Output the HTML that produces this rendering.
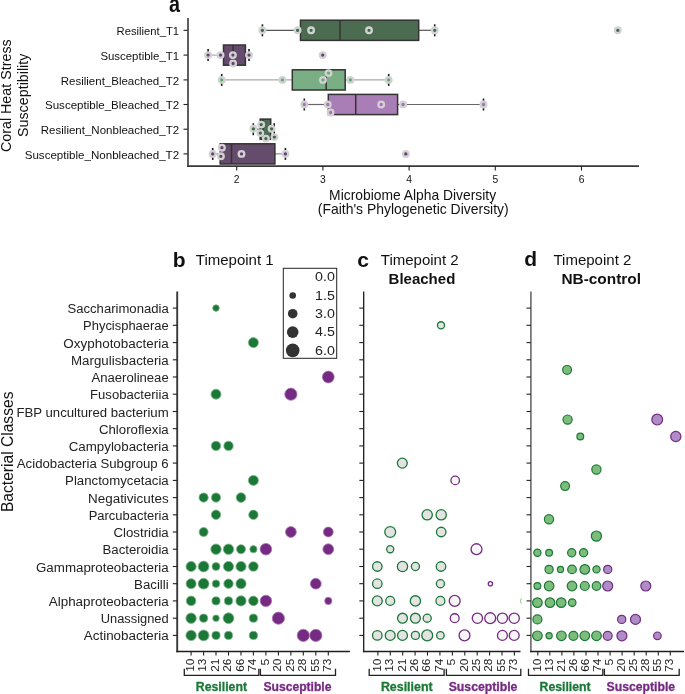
<!DOCTYPE html>
<html><head><meta charset="utf-8"><title>figure</title>
<style>
html,body{margin:0;padding:0;background:#fff;overflow:hidden;}
svg{display:block;will-change:transform;}
text{font-family:"Liberation Sans", sans-serif;}
</style></head><body>
<svg width="685" height="694" viewBox="0 0 685 694">
<rect width="685" height="694" fill="#fff"/>
<text transform="translate(168.9,11.5) scale(0.86,1)" font-size="23" font-weight="bold" fill="#111">a</text>
<text transform="translate(11,95.7) rotate(-90)" text-anchor="middle" font-size="14.3" fill="#111">Coral Heat Stress</text>
<text transform="translate(27.5,95.3) rotate(-90)" text-anchor="middle" font-size="14.3" fill="#111">Susceptibility</text>
<text x="116.5" y="35.2" font-size="11" fill="#111" textLength="62.6" lengthAdjust="spacingAndGlyphs">Resilient_T1</text>
<line x1="183.5" y1="30.3" x2="188" y2="30.3" stroke="#222" stroke-width="1.1"/>
<text x="100.4" y="60.0" font-size="11" fill="#111" textLength="78.7" lengthAdjust="spacingAndGlyphs">Susceptible_T1</text>
<line x1="183.5" y1="55.1" x2="188" y2="55.1" stroke="#222" stroke-width="1.1"/>
<text x="60.7" y="84.8" font-size="11" fill="#111" textLength="118.4" lengthAdjust="spacingAndGlyphs">Resilient_Bleached_T2</text>
<line x1="183.5" y1="79.9" x2="188" y2="79.9" stroke="#222" stroke-width="1.1"/>
<text x="45.0" y="109.4" font-size="11" fill="#111" textLength="134.1" lengthAdjust="spacingAndGlyphs">Susceptible_Bleached_T2</text>
<line x1="183.5" y1="104.5" x2="188" y2="104.5" stroke="#222" stroke-width="1.1"/>
<text x="40.8" y="134.1" font-size="11" fill="#111" textLength="138.3" lengthAdjust="spacingAndGlyphs">Resilient_Nonbleached_T2</text>
<line x1="183.5" y1="129.2" x2="188" y2="129.2" stroke="#222" stroke-width="1.1"/>
<text x="24.7" y="158.8" font-size="11" fill="#111" textLength="154.4" lengthAdjust="spacingAndGlyphs">Susceptible_Nonbleached_T2</text>
<line x1="183.5" y1="153.9" x2="188" y2="153.9" stroke="#222" stroke-width="1.1"/>
<line x1="262.4" y1="30.3" x2="300.5" y2="30.3" stroke="#555" stroke-width="1.2"/>
<line x1="418.7" y1="30.3" x2="434.7" y2="30.3" stroke="#555" stroke-width="1.2"/>
<line x1="262.4" y1="24.3" x2="262.4" y2="36.3" stroke="#1a1a1a" stroke-width="1.6"/>
<line x1="434.7" y1="24.3" x2="434.7" y2="36.3" stroke="#1a1a1a" stroke-width="1.6"/>
<rect x="300.5" y="20.2" width="118.2" height="20.2" fill="#4c6c52" stroke="#333333" stroke-width="1.5"/>
<line x1="340.0" y1="20.2" x2="340.0" y2="40.4" stroke="#333333" stroke-width="1.5"/>
<line x1="208.1" y1="55.1" x2="223.5" y2="55.1" stroke="#aaa" stroke-width="1.2"/>
<line x1="245.4" y1="55.1" x2="249.0" y2="55.1" stroke="#aaa" stroke-width="1.2"/>
<line x1="208.1" y1="49.1" x2="208.1" y2="61.1" stroke="#1a1a1a" stroke-width="1.6"/>
<line x1="249.0" y1="49.1" x2="249.0" y2="61.1" stroke="#1a1a1a" stroke-width="1.6"/>
<rect x="223.5" y="45.0" width="21.9" height="20.2" fill="#664c6c" stroke="#333333" stroke-width="1.5"/>
<line x1="233.1" y1="45.0" x2="233.1" y2="65.2" stroke="#333333" stroke-width="1.5"/>
<line x1="221.7" y1="79.9" x2="292.3" y2="79.9" stroke="#aaa" stroke-width="1.2"/>
<line x1="345.2" y1="79.9" x2="388.7" y2="79.9" stroke="#aaa" stroke-width="1.2"/>
<line x1="221.7" y1="73.9" x2="221.7" y2="85.9" stroke="#1a1a1a" stroke-width="1.6"/>
<line x1="388.7" y1="73.9" x2="388.7" y2="85.9" stroke="#1a1a1a" stroke-width="1.6"/>
<rect x="292.3" y="69.8" width="52.9" height="20.2" fill="#7aae84" stroke="#333333" stroke-width="1.5"/>
<line x1="326.2" y1="69.8" x2="326.2" y2="90.0" stroke="#333333" stroke-width="1.5"/>
<line x1="304.3" y1="104.5" x2="328.3" y2="104.5" stroke="#666" stroke-width="1.2"/>
<line x1="397.6" y1="104.5" x2="483.5" y2="104.5" stroke="#666" stroke-width="1.2"/>
<line x1="304.3" y1="98.5" x2="304.3" y2="110.5" stroke="#1a1a1a" stroke-width="1.6"/>
<line x1="483.5" y1="98.5" x2="483.5" y2="110.5" stroke="#1a1a1a" stroke-width="1.6"/>
<rect x="328.3" y="94.4" width="69.3" height="20.2" fill="#a97db5" stroke="#333333" stroke-width="1.5"/>
<line x1="355.7" y1="94.4" x2="355.7" y2="114.6" stroke="#333333" stroke-width="1.5"/>
<line x1="253.3" y1="129.2" x2="260.2" y2="129.2" stroke="#777" stroke-width="1.2"/>
<line x1="270.7" y1="129.2" x2="274.2" y2="129.2" stroke="#777" stroke-width="1.2"/>
<line x1="253.3" y1="123.2" x2="253.3" y2="135.2" stroke="#1a1a1a" stroke-width="1.6"/>
<line x1="274.2" y1="123.2" x2="274.2" y2="135.2" stroke="#1a1a1a" stroke-width="1.6"/>
<rect x="260.2" y="119.1" width="10.5" height="20.2" fill="#4c6c52" stroke="#333333" stroke-width="1.5"/>
<line x1="263.0" y1="119.1" x2="263.0" y2="139.3" stroke="#333333" stroke-width="1.5"/>
<line x1="212.7" y1="153.9" x2="220.2" y2="153.9" stroke="#888" stroke-width="1.2"/>
<line x1="274.9" y1="153.9" x2="285.4" y2="153.9" stroke="#888" stroke-width="1.2"/>
<line x1="212.7" y1="147.9" x2="212.7" y2="159.9" stroke="#1a1a1a" stroke-width="1.6"/>
<line x1="285.4" y1="147.9" x2="285.4" y2="159.9" stroke="#1a1a1a" stroke-width="1.6"/>
<rect x="220.2" y="143.8" width="54.7" height="20.2" fill="#664c6c" stroke="#333333" stroke-width="1.5"/>
<line x1="231.5" y1="143.8" x2="231.5" y2="164.0" stroke="#333333" stroke-width="1.5"/>
<circle cx="262.4" cy="30.3" r="2.8" fill="#3c6b46" stroke="#d2d2d2" stroke-width="2.3"/>
<circle cx="297.6" cy="30.3" r="2.8" fill="#3c6b46" stroke="#d2d2d2" stroke-width="2.3"/>
<circle cx="311.1" cy="30.3" r="2.8" fill="#3c6b46" stroke="#d2d2d2" stroke-width="2.3"/>
<circle cx="369.0" cy="30.3" r="2.8" fill="#3c6b46" stroke="#d2d2d2" stroke-width="2.3"/>
<circle cx="434.7" cy="30.3" r="2.8" fill="#3c6b46" stroke="#d2d2d2" stroke-width="2.3"/>
<circle cx="617.8" cy="30.3" r="2.8" fill="#3c6b46" stroke="#d2d2d2" stroke-width="2.3"/>
<circle cx="208.1" cy="55.1" r="2.8" fill="#6a3f78" stroke="#d2d2d2" stroke-width="2.3"/>
<circle cx="220.6" cy="55.1" r="2.8" fill="#6a3f78" stroke="#d2d2d2" stroke-width="2.3"/>
<circle cx="232.9" cy="55.1" r="2.8" fill="#6a3f78" stroke="#d2d2d2" stroke-width="2.3"/>
<circle cx="233.1" cy="63.5" r="2.8" fill="#6a3f78" stroke="#d2d2d2" stroke-width="2.3"/>
<circle cx="249.0" cy="55.1" r="2.8" fill="#6a3f78" stroke="#d2d2d2" stroke-width="2.3"/>
<circle cx="322.7" cy="55.1" r="2.8" fill="#6a3f78" stroke="#d2d2d2" stroke-width="2.3"/>
<circle cx="221.7" cy="79.9" r="2.8" fill="#62b06f" stroke="#d2d2d2" stroke-width="2.3"/>
<circle cx="282.4" cy="79.9" r="2.8" fill="#62b06f" stroke="#d2d2d2" stroke-width="2.3"/>
<circle cx="323.0" cy="79.9" r="2.8" fill="#62b06f" stroke="#d2d2d2" stroke-width="2.3"/>
<circle cx="328.5" cy="73.1" r="2.8" fill="#62b06f" stroke="#d2d2d2" stroke-width="2.3"/>
<circle cx="350.4" cy="79.9" r="2.8" fill="#62b06f" stroke="#d2d2d2" stroke-width="2.3"/>
<circle cx="388.7" cy="79.9" r="2.8" fill="#62b06f" stroke="#d2d2d2" stroke-width="2.3"/>
<circle cx="304.3" cy="104.5" r="2.8" fill="#b06ac3" stroke="#d2d2d2" stroke-width="2.3"/>
<circle cx="327.8" cy="104.5" r="2.8" fill="#b06ac3" stroke="#d2d2d2" stroke-width="2.3"/>
<circle cx="330.6" cy="112.5" r="2.8" fill="#b06ac3" stroke="#d2d2d2" stroke-width="2.3"/>
<circle cx="381.2" cy="104.5" r="2.8" fill="#b06ac3" stroke="#d2d2d2" stroke-width="2.3"/>
<circle cx="403.1" cy="104.5" r="2.8" fill="#b06ac3" stroke="#d2d2d2" stroke-width="2.3"/>
<circle cx="483.5" cy="104.5" r="2.8" fill="#b06ac3" stroke="#d2d2d2" stroke-width="2.3"/>
<circle cx="253.4" cy="128.8" r="2.8" fill="#3c6b46" stroke="#d2d2d2" stroke-width="2.3"/>
<circle cx="261.2" cy="124.6" r="2.8" fill="#3c6b46" stroke="#d2d2d2" stroke-width="2.3"/>
<circle cx="260.3" cy="133.1" r="2.8" fill="#3c6b46" stroke="#d2d2d2" stroke-width="2.3"/>
<circle cx="265.9" cy="138.6" r="2.8" fill="#3c6b46" stroke="#d2d2d2" stroke-width="2.3"/>
<circle cx="271.6" cy="128.8" r="2.8" fill="#3c6b46" stroke="#d2d2d2" stroke-width="2.3"/>
<circle cx="274.4" cy="137.1" r="2.8" fill="#3c6b46" stroke="#d2d2d2" stroke-width="2.3"/>
<circle cx="212.7" cy="153.9" r="2.8" fill="#6a3f78" stroke="#d2d2d2" stroke-width="2.3"/>
<circle cx="221.9" cy="147.7" r="2.8" fill="#6a3f78" stroke="#d2d2d2" stroke-width="2.3"/>
<circle cx="220.9" cy="156.3" r="2.8" fill="#6a3f78" stroke="#d2d2d2" stroke-width="2.3"/>
<circle cx="241.5" cy="153.9" r="2.8" fill="#6a3f78" stroke="#d2d2d2" stroke-width="2.3"/>
<circle cx="285.4" cy="153.9" r="2.8" fill="#6a3f78" stroke="#d2d2d2" stroke-width="2.3"/>
<circle cx="405.8" cy="153.9" r="2.8" fill="#6a3f78" stroke="#d2d2d2" stroke-width="2.3"/>
<line x1="188" y1="18" x2="188" y2="166.9" stroke="#383838" stroke-width="1.6"/>
<line x1="187.2" y1="166.1" x2="639" y2="166.1" stroke="#383838" stroke-width="1.6"/>
<line x1="236.7" y1="166" x2="236.7" y2="170.6" stroke="#222" stroke-width="1.1"/>
<text x="236.7" y="182.6" font-size="10.3" fill="#111" text-anchor="middle">2</text>
<line x1="322.9" y1="166" x2="322.9" y2="170.6" stroke="#222" stroke-width="1.1"/>
<text x="322.9" y="182.6" font-size="10.3" fill="#111" text-anchor="middle">3</text>
<line x1="409.1" y1="166" x2="409.1" y2="170.6" stroke="#222" stroke-width="1.1"/>
<text x="409.1" y="182.6" font-size="10.3" fill="#111" text-anchor="middle">4</text>
<line x1="495.3" y1="166" x2="495.3" y2="170.6" stroke="#222" stroke-width="1.1"/>
<text x="495.3" y="182.6" font-size="10.3" fill="#111" text-anchor="middle">5</text>
<line x1="581.5" y1="166" x2="581.5" y2="170.6" stroke="#222" stroke-width="1.1"/>
<text x="581.5" y="182.6" font-size="10.3" fill="#111" text-anchor="middle">6</text>
<text x="329.1" y="200.0" font-size="14.4" fill="#111" textLength="167" lengthAdjust="spacingAndGlyphs">Microbiome Alpha Diversity</text>
<text x="317.8" y="214.3" font-size="14.4" fill="#111" textLength="190.9" lengthAdjust="spacingAndGlyphs">(Faith's Phylogenetic Diversity)</text>
<text x="67.5" y="313.1" font-size="12" fill="#222" textLength="101.2" lengthAdjust="spacingAndGlyphs">Saccharimonadia</text>
<text x="83.1" y="330.3" font-size="12" fill="#222" textLength="85.6" lengthAdjust="spacingAndGlyphs">Phycisphaerae</text>
<text x="63.3" y="347.6" font-size="12" fill="#222" textLength="105.4" lengthAdjust="spacingAndGlyphs">Oxyphotobacteria</text>
<text x="71.0" y="364.8" font-size="12" fill="#222" textLength="97.7" lengthAdjust="spacingAndGlyphs">Margulisbacteria</text>
<text x="91.5" y="382.0" font-size="12" fill="#222" textLength="77.2" lengthAdjust="spacingAndGlyphs">Anaerolineae</text>
<text x="90.1" y="399.2" font-size="12" fill="#222" textLength="78.6" lengthAdjust="spacingAndGlyphs">Fusobacteriia</text>
<text x="16.4" y="416.5" font-size="12" fill="#222" textLength="152.3" lengthAdjust="spacingAndGlyphs">FBP uncultured bacterium</text>
<text x="99.0" y="433.7" font-size="12" fill="#222" textLength="69.7" lengthAdjust="spacingAndGlyphs">Chloroflexia</text>
<text x="68.7" y="450.9" font-size="12" fill="#222" textLength="100.0" lengthAdjust="spacingAndGlyphs">Campylobacteria</text>
<text x="16.8" y="468.1" font-size="12" fill="#222" textLength="151.9" lengthAdjust="spacingAndGlyphs">Acidobacteria Subgroup 6</text>
<text x="65.1" y="485.4" font-size="12" fill="#222" textLength="103.6" lengthAdjust="spacingAndGlyphs">Planctomycetacia</text>
<text x="88.0" y="502.6" font-size="12" fill="#222" textLength="80.7" lengthAdjust="spacingAndGlyphs">Negativicutes</text>
<text x="88.7" y="519.8" font-size="12" fill="#222" textLength="80.0" lengthAdjust="spacingAndGlyphs">Parcubacteria</text>
<text x="113.5" y="537.0" font-size="12" fill="#222" textLength="55.2" lengthAdjust="spacingAndGlyphs">Clostridia</text>
<text x="102.5" y="554.2" font-size="12" fill="#222" textLength="66.2" lengthAdjust="spacingAndGlyphs">Bacteroidia</text>
<text x="36.0" y="571.5" font-size="12" fill="#222" textLength="132.7" lengthAdjust="spacingAndGlyphs">Gammaproteobacteria</text>
<text x="134.1" y="588.7" font-size="12" fill="#222" textLength="34.6" lengthAdjust="spacingAndGlyphs">Bacilli</text>
<text x="48.8" y="605.9" font-size="12" fill="#222" textLength="119.9" lengthAdjust="spacingAndGlyphs">Alphaproteobacteria</text>
<text x="100.7" y="623.2" font-size="12" fill="#222" textLength="68.0" lengthAdjust="spacingAndGlyphs">Unassigned</text>
<text x="83.8" y="640.4" font-size="12" fill="#222" textLength="84.9" lengthAdjust="spacingAndGlyphs">Actinobacteria</text>
<text transform="translate(12.6,451.8) rotate(-90)" text-anchor="middle" font-size="15.6" fill="#111">Bacterial Classes</text>
<text x="172.8" y="267.1" font-size="21" font-weight="bold" fill="#111">b</text>
<text x="195.8" y="265.1" font-size="15" fill="#111">Timepoint 1</text>
<text x="357.2" y="266.9" font-size="21" font-weight="bold" fill="#111">c</text>
<text x="380.8" y="264.9" font-size="15" fill="#111">Timepoint 2</text>
<text x="388.6" y="284" font-size="15" font-weight="bold" fill="#111">Bleached</text>
<text x="524.3" y="266.3" font-size="21" font-weight="bold" fill="#111">d</text>
<text x="553.5" y="265.2" font-size="15" fill="#111">Timepoint 2</text>
<text x="561.4" y="284.3" font-size="15" font-weight="bold" fill="#111" textLength="79.6" lengthAdjust="spacingAndGlyphs">NB-control</text>
<line x1="177.2" y1="291.6" x2="177.2" y2="652.3" stroke="#383838" stroke-width="1.9"/>
<line x1="176.4" y1="651.5" x2="349.9" y2="651.5" stroke="#1e1e1e" stroke-width="1.5"/>
<line x1="172.8" y1="308.1" x2="177.2" y2="308.1" stroke="#222" stroke-width="1.1"/>
<line x1="172.8" y1="325.3" x2="177.2" y2="325.3" stroke="#222" stroke-width="1.1"/>
<line x1="172.8" y1="342.6" x2="177.2" y2="342.6" stroke="#222" stroke-width="1.1"/>
<line x1="172.8" y1="359.8" x2="177.2" y2="359.8" stroke="#222" stroke-width="1.1"/>
<line x1="172.8" y1="377.0" x2="177.2" y2="377.0" stroke="#222" stroke-width="1.1"/>
<line x1="172.8" y1="394.2" x2="177.2" y2="394.2" stroke="#222" stroke-width="1.1"/>
<line x1="172.8" y1="411.5" x2="177.2" y2="411.5" stroke="#222" stroke-width="1.1"/>
<line x1="172.8" y1="428.7" x2="177.2" y2="428.7" stroke="#222" stroke-width="1.1"/>
<line x1="172.8" y1="445.9" x2="177.2" y2="445.9" stroke="#222" stroke-width="1.1"/>
<line x1="172.8" y1="463.1" x2="177.2" y2="463.1" stroke="#222" stroke-width="1.1"/>
<line x1="172.8" y1="480.4" x2="177.2" y2="480.4" stroke="#222" stroke-width="1.1"/>
<line x1="172.8" y1="497.6" x2="177.2" y2="497.6" stroke="#222" stroke-width="1.1"/>
<line x1="172.8" y1="514.8" x2="177.2" y2="514.8" stroke="#222" stroke-width="1.1"/>
<line x1="172.8" y1="532.0" x2="177.2" y2="532.0" stroke="#222" stroke-width="1.1"/>
<line x1="172.8" y1="549.2" x2="177.2" y2="549.2" stroke="#222" stroke-width="1.1"/>
<line x1="172.8" y1="566.5" x2="177.2" y2="566.5" stroke="#222" stroke-width="1.1"/>
<line x1="172.8" y1="583.7" x2="177.2" y2="583.7" stroke="#222" stroke-width="1.1"/>
<line x1="172.8" y1="600.9" x2="177.2" y2="600.9" stroke="#222" stroke-width="1.1"/>
<line x1="172.8" y1="618.2" x2="177.2" y2="618.2" stroke="#222" stroke-width="1.1"/>
<line x1="172.8" y1="635.4" x2="177.2" y2="635.4" stroke="#222" stroke-width="1.1"/>
<line x1="191.1" y1="651.5" x2="191.1" y2="655.6" stroke="#222" stroke-width="1.1"/>
<text transform="translate(193.9,658.6) rotate(-90)" text-anchor="end" font-size="11.5" fill="#222" textLength="13.2" lengthAdjust="spacingAndGlyphs">10</text>
<line x1="203.6" y1="651.5" x2="203.6" y2="655.6" stroke="#222" stroke-width="1.1"/>
<text transform="translate(206.4,658.6) rotate(-90)" text-anchor="end" font-size="11.5" fill="#222" textLength="13.2" lengthAdjust="spacingAndGlyphs">13</text>
<line x1="216.0" y1="651.5" x2="216.0" y2="655.6" stroke="#222" stroke-width="1.1"/>
<text transform="translate(218.8,658.6) rotate(-90)" text-anchor="end" font-size="11.5" fill="#222" textLength="13.2" lengthAdjust="spacingAndGlyphs">21</text>
<line x1="228.5" y1="651.5" x2="228.5" y2="655.6" stroke="#222" stroke-width="1.1"/>
<text transform="translate(231.3,658.6) rotate(-90)" text-anchor="end" font-size="11.5" fill="#222" textLength="13.2" lengthAdjust="spacingAndGlyphs">26</text>
<line x1="241.0" y1="651.5" x2="241.0" y2="655.6" stroke="#222" stroke-width="1.1"/>
<text transform="translate(243.8,658.6) rotate(-90)" text-anchor="end" font-size="11.5" fill="#222" textLength="13.2" lengthAdjust="spacingAndGlyphs">66</text>
<line x1="253.4" y1="651.5" x2="253.4" y2="655.6" stroke="#222" stroke-width="1.1"/>
<text transform="translate(256.2,658.6) rotate(-90)" text-anchor="end" font-size="11.5" fill="#222" textLength="13.2" lengthAdjust="spacingAndGlyphs">74</text>
<line x1="265.9" y1="651.5" x2="265.9" y2="655.6" stroke="#222" stroke-width="1.1"/>
<text transform="translate(268.7,658.6) rotate(-90)" text-anchor="end" font-size="11.5" fill="#222" textLength="6.9" lengthAdjust="spacingAndGlyphs">5</text>
<line x1="278.4" y1="651.5" x2="278.4" y2="655.6" stroke="#222" stroke-width="1.1"/>
<text transform="translate(281.2,658.6) rotate(-90)" text-anchor="end" font-size="11.5" fill="#222" textLength="13.2" lengthAdjust="spacingAndGlyphs">20</text>
<line x1="290.9" y1="651.5" x2="290.9" y2="655.6" stroke="#222" stroke-width="1.1"/>
<text transform="translate(293.7,658.6) rotate(-90)" text-anchor="end" font-size="11.5" fill="#222" textLength="13.2" lengthAdjust="spacingAndGlyphs">25</text>
<line x1="303.3" y1="651.5" x2="303.3" y2="655.6" stroke="#222" stroke-width="1.1"/>
<text transform="translate(306.1,658.6) rotate(-90)" text-anchor="end" font-size="11.5" fill="#222" textLength="13.2" lengthAdjust="spacingAndGlyphs">28</text>
<line x1="315.8" y1="651.5" x2="315.8" y2="655.6" stroke="#222" stroke-width="1.1"/>
<text transform="translate(318.6,658.6) rotate(-90)" text-anchor="end" font-size="11.5" fill="#222" textLength="13.2" lengthAdjust="spacingAndGlyphs">55</text>
<line x1="328.3" y1="651.5" x2="328.3" y2="655.6" stroke="#222" stroke-width="1.1"/>
<text transform="translate(331.1,658.6) rotate(-90)" text-anchor="end" font-size="11.5" fill="#222" textLength="13.2" lengthAdjust="spacingAndGlyphs">73</text>
<path d="M184.3,668.8 V675.3 H258.8 V668.8" fill="none" stroke="#222" stroke-width="1.3"/>
<path d="M260.4,668.8 V675.3 H335.5 V668.8" fill="none" stroke="#222" stroke-width="1.3"/>
<text x="195.8" y="690.6" font-size="12" font-weight="bold" fill="#1b7837" stroke="#1b7837" stroke-width="0.3" textLength="51.2" lengthAdjust="spacingAndGlyphs">Resilient</text>
<text x="263.4" y="690.6" font-size="12" font-weight="bold" fill="#762a83" stroke="#762a83" stroke-width="0.3" textLength="68.1" lengthAdjust="spacingAndGlyphs">Susceptible</text>
<line x1="363.7" y1="291.6" x2="363.7" y2="652.3" stroke="#1a1a1a" stroke-width="1.3"/>
<line x1="362.9" y1="651.5" x2="520.5" y2="651.5" stroke="#1e1e1e" stroke-width="1.5"/>
<line x1="359.3" y1="308.1" x2="363.7" y2="308.1" stroke="#222" stroke-width="1.1"/>
<line x1="359.3" y1="325.3" x2="363.7" y2="325.3" stroke="#222" stroke-width="1.1"/>
<line x1="359.3" y1="342.6" x2="363.7" y2="342.6" stroke="#222" stroke-width="1.1"/>
<line x1="359.3" y1="359.8" x2="363.7" y2="359.8" stroke="#222" stroke-width="1.1"/>
<line x1="359.3" y1="377.0" x2="363.7" y2="377.0" stroke="#222" stroke-width="1.1"/>
<line x1="359.3" y1="394.2" x2="363.7" y2="394.2" stroke="#222" stroke-width="1.1"/>
<line x1="359.3" y1="411.5" x2="363.7" y2="411.5" stroke="#222" stroke-width="1.1"/>
<line x1="359.3" y1="428.7" x2="363.7" y2="428.7" stroke="#222" stroke-width="1.1"/>
<line x1="359.3" y1="445.9" x2="363.7" y2="445.9" stroke="#222" stroke-width="1.1"/>
<line x1="359.3" y1="463.1" x2="363.7" y2="463.1" stroke="#222" stroke-width="1.1"/>
<line x1="359.3" y1="480.4" x2="363.7" y2="480.4" stroke="#222" stroke-width="1.1"/>
<line x1="359.3" y1="497.6" x2="363.7" y2="497.6" stroke="#222" stroke-width="1.1"/>
<line x1="359.3" y1="514.8" x2="363.7" y2="514.8" stroke="#222" stroke-width="1.1"/>
<line x1="359.3" y1="532.0" x2="363.7" y2="532.0" stroke="#222" stroke-width="1.1"/>
<line x1="359.3" y1="549.2" x2="363.7" y2="549.2" stroke="#222" stroke-width="1.1"/>
<line x1="359.3" y1="566.5" x2="363.7" y2="566.5" stroke="#222" stroke-width="1.1"/>
<line x1="359.3" y1="583.7" x2="363.7" y2="583.7" stroke="#222" stroke-width="1.1"/>
<line x1="359.3" y1="600.9" x2="363.7" y2="600.9" stroke="#222" stroke-width="1.1"/>
<line x1="359.3" y1="618.2" x2="363.7" y2="618.2" stroke="#222" stroke-width="1.1"/>
<line x1="359.3" y1="635.4" x2="363.7" y2="635.4" stroke="#222" stroke-width="1.1"/>
<line x1="377.9" y1="651.5" x2="377.9" y2="655.6" stroke="#222" stroke-width="1.1"/>
<text transform="translate(380.7,658.6) rotate(-90)" text-anchor="end" font-size="11.5" fill="#222" textLength="13.2" lengthAdjust="spacingAndGlyphs">10</text>
<line x1="390.3" y1="651.5" x2="390.3" y2="655.6" stroke="#222" stroke-width="1.1"/>
<text transform="translate(393.1,658.6) rotate(-90)" text-anchor="end" font-size="11.5" fill="#222" textLength="13.2" lengthAdjust="spacingAndGlyphs">13</text>
<line x1="402.7" y1="651.5" x2="402.7" y2="655.6" stroke="#222" stroke-width="1.1"/>
<text transform="translate(405.5,658.6) rotate(-90)" text-anchor="end" font-size="11.5" fill="#222" textLength="13.2" lengthAdjust="spacingAndGlyphs">21</text>
<line x1="415.1" y1="651.5" x2="415.1" y2="655.6" stroke="#222" stroke-width="1.1"/>
<text transform="translate(417.9,658.6) rotate(-90)" text-anchor="end" font-size="11.5" fill="#222" textLength="13.2" lengthAdjust="spacingAndGlyphs">26</text>
<line x1="427.5" y1="651.5" x2="427.5" y2="655.6" stroke="#222" stroke-width="1.1"/>
<text transform="translate(430.3,658.6) rotate(-90)" text-anchor="end" font-size="11.5" fill="#222" textLength="13.2" lengthAdjust="spacingAndGlyphs">66</text>
<line x1="439.9" y1="651.5" x2="439.9" y2="655.6" stroke="#222" stroke-width="1.1"/>
<text transform="translate(442.8,658.6) rotate(-90)" text-anchor="end" font-size="11.5" fill="#222" textLength="13.2" lengthAdjust="spacingAndGlyphs">74</text>
<line x1="452.4" y1="651.5" x2="452.4" y2="655.6" stroke="#222" stroke-width="1.1"/>
<text transform="translate(455.2,658.6) rotate(-90)" text-anchor="end" font-size="11.5" fill="#222" textLength="6.9" lengthAdjust="spacingAndGlyphs">5</text>
<line x1="464.8" y1="651.5" x2="464.8" y2="655.6" stroke="#222" stroke-width="1.1"/>
<text transform="translate(467.6,658.6) rotate(-90)" text-anchor="end" font-size="11.5" fill="#222" textLength="13.2" lengthAdjust="spacingAndGlyphs">20</text>
<line x1="477.2" y1="651.5" x2="477.2" y2="655.6" stroke="#222" stroke-width="1.1"/>
<text transform="translate(480.0,658.6) rotate(-90)" text-anchor="end" font-size="11.5" fill="#222" textLength="13.2" lengthAdjust="spacingAndGlyphs">25</text>
<line x1="489.6" y1="651.5" x2="489.6" y2="655.6" stroke="#222" stroke-width="1.1"/>
<text transform="translate(492.4,658.6) rotate(-90)" text-anchor="end" font-size="11.5" fill="#222" textLength="13.2" lengthAdjust="spacingAndGlyphs">28</text>
<line x1="502.0" y1="651.5" x2="502.0" y2="655.6" stroke="#222" stroke-width="1.1"/>
<text transform="translate(504.8,658.6) rotate(-90)" text-anchor="end" font-size="11.5" fill="#222" textLength="13.2" lengthAdjust="spacingAndGlyphs">55</text>
<line x1="514.4" y1="651.5" x2="514.4" y2="655.6" stroke="#222" stroke-width="1.1"/>
<text transform="translate(517.2,658.6) rotate(-90)" text-anchor="end" font-size="11.5" fill="#222" textLength="13.2" lengthAdjust="spacingAndGlyphs">73</text>
<path d="M369.2,668.8 V675.3 H444.1 V668.8" fill="none" stroke="#222" stroke-width="1.3"/>
<path d="M446.4,668.8 V675.3 H520.8 V668.8" fill="none" stroke="#222" stroke-width="1.3"/>
<text x="380.9" y="690.6" font-size="12" font-weight="bold" fill="#1b7837" stroke="#1b7837" stroke-width="0.3" textLength="51.7" lengthAdjust="spacingAndGlyphs">Resilient</text>
<text x="448.7" y="690.6" font-size="12" font-weight="bold" fill="#762a83" stroke="#762a83" stroke-width="0.3" textLength="68.7" lengthAdjust="spacingAndGlyphs">Susceptible</text>
<line x1="530.9" y1="291.6" x2="530.9" y2="652.3" stroke="#6a6a6a" stroke-width="1.6"/>
<line x1="530.1" y1="651.5" x2="684.0" y2="651.5" stroke="#1e1e1e" stroke-width="1.5"/>
<line x1="526.5" y1="308.1" x2="530.9" y2="308.1" stroke="#222" stroke-width="1.1"/>
<line x1="526.5" y1="325.3" x2="530.9" y2="325.3" stroke="#222" stroke-width="1.1"/>
<line x1="526.5" y1="342.6" x2="530.9" y2="342.6" stroke="#222" stroke-width="1.1"/>
<line x1="526.5" y1="359.8" x2="530.9" y2="359.8" stroke="#222" stroke-width="1.1"/>
<line x1="526.5" y1="377.0" x2="530.9" y2="377.0" stroke="#222" stroke-width="1.1"/>
<line x1="526.5" y1="394.2" x2="530.9" y2="394.2" stroke="#222" stroke-width="1.1"/>
<line x1="526.5" y1="411.5" x2="530.9" y2="411.5" stroke="#222" stroke-width="1.1"/>
<line x1="526.5" y1="428.7" x2="530.9" y2="428.7" stroke="#222" stroke-width="1.1"/>
<line x1="526.5" y1="445.9" x2="530.9" y2="445.9" stroke="#222" stroke-width="1.1"/>
<line x1="526.5" y1="463.1" x2="530.9" y2="463.1" stroke="#222" stroke-width="1.1"/>
<line x1="526.5" y1="480.4" x2="530.9" y2="480.4" stroke="#222" stroke-width="1.1"/>
<line x1="526.5" y1="497.6" x2="530.9" y2="497.6" stroke="#222" stroke-width="1.1"/>
<line x1="526.5" y1="514.8" x2="530.9" y2="514.8" stroke="#222" stroke-width="1.1"/>
<line x1="526.5" y1="532.0" x2="530.9" y2="532.0" stroke="#222" stroke-width="1.1"/>
<line x1="526.5" y1="549.2" x2="530.9" y2="549.2" stroke="#222" stroke-width="1.1"/>
<line x1="526.5" y1="566.5" x2="530.9" y2="566.5" stroke="#222" stroke-width="1.1"/>
<line x1="526.5" y1="583.7" x2="530.9" y2="583.7" stroke="#222" stroke-width="1.1"/>
<line x1="526.5" y1="600.9" x2="530.9" y2="600.9" stroke="#222" stroke-width="1.1"/>
<line x1="526.5" y1="618.2" x2="530.9" y2="618.2" stroke="#222" stroke-width="1.1"/>
<line x1="526.5" y1="635.4" x2="530.9" y2="635.4" stroke="#222" stroke-width="1.1"/>
<line x1="537.8" y1="651.5" x2="537.8" y2="655.6" stroke="#222" stroke-width="1.1"/>
<text transform="translate(540.6,658.6) rotate(-90)" text-anchor="end" font-size="11.5" fill="#222" textLength="13.2" lengthAdjust="spacingAndGlyphs">10</text>
<line x1="549.8" y1="651.5" x2="549.8" y2="655.6" stroke="#222" stroke-width="1.1"/>
<text transform="translate(552.6,658.6) rotate(-90)" text-anchor="end" font-size="11.5" fill="#222" textLength="13.2" lengthAdjust="spacingAndGlyphs">13</text>
<line x1="561.9" y1="651.5" x2="561.9" y2="655.6" stroke="#222" stroke-width="1.1"/>
<text transform="translate(564.7,658.6) rotate(-90)" text-anchor="end" font-size="11.5" fill="#222" textLength="13.2" lengthAdjust="spacingAndGlyphs">21</text>
<line x1="573.9" y1="651.5" x2="573.9" y2="655.6" stroke="#222" stroke-width="1.1"/>
<text transform="translate(576.7,658.6) rotate(-90)" text-anchor="end" font-size="11.5" fill="#222" textLength="13.2" lengthAdjust="spacingAndGlyphs">26</text>
<line x1="586.0" y1="651.5" x2="586.0" y2="655.6" stroke="#222" stroke-width="1.1"/>
<text transform="translate(588.8,658.6) rotate(-90)" text-anchor="end" font-size="11.5" fill="#222" textLength="13.2" lengthAdjust="spacingAndGlyphs">66</text>
<line x1="598.0" y1="651.5" x2="598.0" y2="655.6" stroke="#222" stroke-width="1.1"/>
<text transform="translate(600.8,658.6) rotate(-90)" text-anchor="end" font-size="11.5" fill="#222" textLength="13.2" lengthAdjust="spacingAndGlyphs">74</text>
<line x1="610.1" y1="651.5" x2="610.1" y2="655.6" stroke="#222" stroke-width="1.1"/>
<text transform="translate(612.9,658.6) rotate(-90)" text-anchor="end" font-size="11.5" fill="#222" textLength="6.9" lengthAdjust="spacingAndGlyphs">5</text>
<line x1="622.1" y1="651.5" x2="622.1" y2="655.6" stroke="#222" stroke-width="1.1"/>
<text transform="translate(624.9,658.6) rotate(-90)" text-anchor="end" font-size="11.5" fill="#222" textLength="13.2" lengthAdjust="spacingAndGlyphs">20</text>
<line x1="634.2" y1="651.5" x2="634.2" y2="655.6" stroke="#222" stroke-width="1.1"/>
<text transform="translate(637.0,658.6) rotate(-90)" text-anchor="end" font-size="11.5" fill="#222" textLength="13.2" lengthAdjust="spacingAndGlyphs">25</text>
<line x1="646.2" y1="651.5" x2="646.2" y2="655.6" stroke="#222" stroke-width="1.1"/>
<text transform="translate(649.0,658.6) rotate(-90)" text-anchor="end" font-size="11.5" fill="#222" textLength="13.2" lengthAdjust="spacingAndGlyphs">28</text>
<line x1="658.3" y1="651.5" x2="658.3" y2="655.6" stroke="#222" stroke-width="1.1"/>
<text transform="translate(661.1,658.6) rotate(-90)" text-anchor="end" font-size="11.5" fill="#222" textLength="13.2" lengthAdjust="spacingAndGlyphs">55</text>
<line x1="670.3" y1="651.5" x2="670.3" y2="655.6" stroke="#222" stroke-width="1.1"/>
<text transform="translate(673.1,658.6) rotate(-90)" text-anchor="end" font-size="11.5" fill="#222" textLength="13.2" lengthAdjust="spacingAndGlyphs">73</text>
<path d="M528.5,668.8 V675.3 H602.8 V668.8" fill="none" stroke="#222" stroke-width="1.3"/>
<path d="M604.4,668.8 V675.3 H679.2 V668.8" fill="none" stroke="#222" stroke-width="1.3"/>
<text x="539.6" y="690.6" font-size="12" font-weight="bold" fill="#1b7837" stroke="#1b7837" stroke-width="0.3" textLength="51.0" lengthAdjust="spacingAndGlyphs">Resilient</text>
<text x="606.6" y="690.6" font-size="12" font-weight="bold" fill="#762a83" stroke="#762a83" stroke-width="0.3" textLength="68.5" lengthAdjust="spacingAndGlyphs">Susceptible</text>
<rect x="283.3" y="268.3" width="53.4" height="90" fill="#fff" stroke="#222" stroke-width="1"/>
<text x="315.1" y="280.9" font-size="12" fill="#222" textLength="19.8" lengthAdjust="spacingAndGlyphs">0.0</text>
<circle cx="292.7" cy="295.5" r="3.3" fill="#333"/>
<text x="315.1" y="299.8" font-size="12" fill="#222" textLength="19.8" lengthAdjust="spacingAndGlyphs">1.5</text>
<circle cx="292.7" cy="313.7" r="4.8" fill="#333"/>
<text x="315.1" y="318.0" font-size="12" fill="#222" textLength="19.8" lengthAdjust="spacingAndGlyphs">3.0</text>
<circle cx="292.7" cy="332.1" r="5.8" fill="#333"/>
<text x="315.1" y="336.4" font-size="12" fill="#222" textLength="19.8" lengthAdjust="spacingAndGlyphs">4.5</text>
<circle cx="292.7" cy="350.4" r="6.8" fill="#333"/>
<text x="315.1" y="354.7" font-size="12" fill="#222" textLength="19.8" lengthAdjust="spacingAndGlyphs">6.0</text>
<circle cx="216.0" cy="308.1" r="3.3" fill="#1b7837" stroke="#7fb58a" stroke-width="0.8"/>
<circle cx="253.4" cy="342.6" r="5.0" fill="#1b7837" stroke="#7fb58a" stroke-width="0.8"/>
<circle cx="328.3" cy="377.0" r="5.9" fill="#762a83" stroke="#a477b0" stroke-width="0.8"/>
<circle cx="216.0" cy="394.2" r="5.0" fill="#1b7837" stroke="#7fb58a" stroke-width="0.8"/>
<circle cx="290.9" cy="394.2" r="6.1" fill="#762a83" stroke="#a477b0" stroke-width="0.8"/>
<circle cx="216.0" cy="445.9" r="4.7" fill="#1b7837" stroke="#7fb58a" stroke-width="0.8"/>
<circle cx="228.5" cy="445.9" r="4.7" fill="#1b7837" stroke="#7fb58a" stroke-width="0.8"/>
<circle cx="253.4" cy="480.4" r="5.0" fill="#1b7837" stroke="#7fb58a" stroke-width="0.8"/>
<circle cx="203.6" cy="497.6" r="4.6" fill="#1b7837" stroke="#7fb58a" stroke-width="0.8"/>
<circle cx="216.0" cy="497.6" r="4.6" fill="#1b7837" stroke="#7fb58a" stroke-width="0.8"/>
<circle cx="241.0" cy="497.6" r="4.8" fill="#1b7837" stroke="#7fb58a" stroke-width="0.8"/>
<circle cx="216.0" cy="514.8" r="4.7" fill="#1b7837" stroke="#7fb58a" stroke-width="0.8"/>
<circle cx="253.4" cy="514.8" r="4.7" fill="#1b7837" stroke="#7fb58a" stroke-width="0.8"/>
<circle cx="203.6" cy="532.0" r="4.5" fill="#1b7837" stroke="#7fb58a" stroke-width="0.8"/>
<circle cx="290.9" cy="532.0" r="5.4" fill="#762a83" stroke="#a477b0" stroke-width="0.8"/>
<circle cx="328.3" cy="532.0" r="4.9" fill="#762a83" stroke="#a477b0" stroke-width="0.8"/>
<circle cx="216.0" cy="549.2" r="5.2" fill="#1b7837" stroke="#7fb58a" stroke-width="0.8"/>
<circle cx="228.5" cy="549.2" r="5.2" fill="#1b7837" stroke="#7fb58a" stroke-width="0.8"/>
<circle cx="241.0" cy="549.2" r="4.5" fill="#1b7837" stroke="#7fb58a" stroke-width="0.8"/>
<circle cx="253.4" cy="549.2" r="3.6" fill="#1b7837" stroke="#7fb58a" stroke-width="0.8"/>
<circle cx="265.9" cy="549.2" r="5.8" fill="#762a83" stroke="#a477b0" stroke-width="0.8"/>
<circle cx="328.3" cy="549.2" r="5.4" fill="#762a83" stroke="#a477b0" stroke-width="0.8"/>
<circle cx="191.1" cy="566.5" r="5.1" fill="#1b7837" stroke="#7fb58a" stroke-width="0.8"/>
<circle cx="203.6" cy="566.5" r="5.4" fill="#1b7837" stroke="#7fb58a" stroke-width="0.8"/>
<circle cx="216.0" cy="566.5" r="4.0" fill="#1b7837" stroke="#7fb58a" stroke-width="0.8"/>
<circle cx="228.5" cy="566.5" r="5.1" fill="#1b7837" stroke="#7fb58a" stroke-width="0.8"/>
<circle cx="241.0" cy="566.5" r="5.1" fill="#1b7837" stroke="#7fb58a" stroke-width="0.8"/>
<circle cx="253.4" cy="566.5" r="4.8" fill="#1b7837" stroke="#7fb58a" stroke-width="0.8"/>
<circle cx="191.1" cy="583.7" r="5.0" fill="#1b7837" stroke="#7fb58a" stroke-width="0.8"/>
<circle cx="203.6" cy="583.7" r="5.4" fill="#1b7837" stroke="#7fb58a" stroke-width="0.8"/>
<circle cx="216.0" cy="583.7" r="3.8" fill="#1b7837" stroke="#7fb58a" stroke-width="0.8"/>
<circle cx="228.5" cy="583.7" r="4.7" fill="#1b7837" stroke="#7fb58a" stroke-width="0.8"/>
<circle cx="241.0" cy="583.7" r="5.1" fill="#1b7837" stroke="#7fb58a" stroke-width="0.8"/>
<circle cx="315.8" cy="583.7" r="5.4" fill="#762a83" stroke="#a477b0" stroke-width="0.8"/>
<circle cx="191.1" cy="600.9" r="4.8" fill="#1b7837" stroke="#7fb58a" stroke-width="0.8"/>
<circle cx="216.0" cy="600.9" r="4.1" fill="#1b7837" stroke="#7fb58a" stroke-width="0.8"/>
<circle cx="228.5" cy="600.9" r="4.1" fill="#1b7837" stroke="#7fb58a" stroke-width="0.8"/>
<circle cx="241.0" cy="600.9" r="5.1" fill="#1b7837" stroke="#7fb58a" stroke-width="0.8"/>
<circle cx="253.4" cy="600.9" r="4.8" fill="#1b7837" stroke="#7fb58a" stroke-width="0.8"/>
<circle cx="265.9" cy="600.9" r="5.7" fill="#762a83" stroke="#a477b0" stroke-width="0.8"/>
<circle cx="328.3" cy="600.9" r="3.6" fill="#762a83" stroke="#a477b0" stroke-width="0.8"/>
<circle cx="191.1" cy="618.2" r="5.2" fill="#1b7837" stroke="#7fb58a" stroke-width="0.8"/>
<circle cx="203.6" cy="618.2" r="4.1" fill="#1b7837" stroke="#7fb58a" stroke-width="0.8"/>
<circle cx="216.0" cy="618.2" r="3.3" fill="#1b7837" stroke="#7fb58a" stroke-width="0.8"/>
<circle cx="228.5" cy="618.2" r="5.4" fill="#1b7837" stroke="#7fb58a" stroke-width="0.8"/>
<circle cx="253.4" cy="618.2" r="4.1" fill="#1b7837" stroke="#7fb58a" stroke-width="0.8"/>
<circle cx="278.4" cy="618.2" r="6.1" fill="#762a83" stroke="#a477b0" stroke-width="0.8"/>
<circle cx="191.1" cy="635.4" r="5.2" fill="#1b7837" stroke="#7fb58a" stroke-width="0.8"/>
<circle cx="203.6" cy="635.4" r="5.4" fill="#1b7837" stroke="#7fb58a" stroke-width="0.8"/>
<circle cx="216.0" cy="635.4" r="4.1" fill="#1b7837" stroke="#7fb58a" stroke-width="0.8"/>
<circle cx="228.5" cy="635.4" r="4.1" fill="#1b7837" stroke="#7fb58a" stroke-width="0.8"/>
<circle cx="253.4" cy="635.4" r="4.1" fill="#1b7837" stroke="#7fb58a" stroke-width="0.8"/>
<circle cx="303.3" cy="635.4" r="6.1" fill="#762a83" stroke="#a477b0" stroke-width="0.8"/>
<circle cx="315.8" cy="635.4" r="6.1" fill="#762a83" stroke="#a477b0" stroke-width="0.8"/>
<circle cx="441.0" cy="325.3" r="3.55" fill="#e3e3e3" stroke="#1b7837" stroke-width="1.3"/>
<circle cx="402.3" cy="463.1" r="4.95" fill="#e3e3e3" stroke="#1b7837" stroke-width="1.3"/>
<circle cx="455.2" cy="480.4" r="4.25" fill="#f7f7f7" stroke="#762a83" stroke-width="1.3"/>
<circle cx="427.2" cy="514.8" r="5.15" fill="#e3e3e3" stroke="#1b7837" stroke-width="1.3"/>
<circle cx="441.2" cy="514.8" r="5.15" fill="#e3e3e3" stroke="#1b7837" stroke-width="1.3"/>
<circle cx="390.2" cy="532.0" r="5.45" fill="#e3e3e3" stroke="#1b7837" stroke-width="1.3"/>
<circle cx="441.2" cy="532.0" r="4.75" fill="#e3e3e3" stroke="#1b7837" stroke-width="1.3"/>
<circle cx="390.2" cy="549.2" r="3.55" fill="#e3e3e3" stroke="#1b7837" stroke-width="1.3"/>
<circle cx="476.5" cy="549.2" r="5.45" fill="#f7f7f7" stroke="#762a83" stroke-width="1.3"/>
<circle cx="377.3" cy="566.5" r="4.75" fill="#e3e3e3" stroke="#1b7837" stroke-width="1.3"/>
<circle cx="402.5" cy="566.5" r="5.15" fill="#e3e3e3" stroke="#1b7837" stroke-width="1.3"/>
<circle cx="415.4" cy="566.5" r="4.05" fill="#e3e3e3" stroke="#1b7837" stroke-width="1.3"/>
<circle cx="441.0" cy="566.5" r="4.75" fill="#e3e3e3" stroke="#1b7837" stroke-width="1.3"/>
<circle cx="377.3" cy="583.7" r="4.75" fill="#e3e3e3" stroke="#1b7837" stroke-width="1.3"/>
<circle cx="440.4" cy="583.7" r="4.05" fill="#e3e3e3" stroke="#1b7837" stroke-width="1.3"/>
<circle cx="490.4" cy="583.7" r="2.15" fill="#f7f7f7" stroke="#762a83" stroke-width="1.3"/>
<circle cx="377.3" cy="600.9" r="4.95" fill="#e3e3e3" stroke="#1b7837" stroke-width="1.3"/>
<circle cx="390.2" cy="600.9" r="4.45" fill="#e3e3e3" stroke="#1b7837" stroke-width="1.3"/>
<circle cx="415.4" cy="600.9" r="5.15" fill="#e3e3e3" stroke="#1b7837" stroke-width="1.3"/>
<circle cx="440.4" cy="600.9" r="4.45" fill="#e3e3e3" stroke="#1b7837" stroke-width="1.3"/>
<circle cx="454.7" cy="600.9" r="5.45" fill="#f7f7f7" stroke="#762a83" stroke-width="1.3"/>
<circle cx="402.5" cy="618.2" r="4.95" fill="#e3e3e3" stroke="#1b7837" stroke-width="1.3"/>
<circle cx="415.4" cy="618.2" r="4.95" fill="#e3e3e3" stroke="#1b7837" stroke-width="1.3"/>
<circle cx="427.2" cy="618.2" r="4.05" fill="#e3e3e3" stroke="#1b7837" stroke-width="1.3"/>
<circle cx="454.7" cy="618.2" r="4.45" fill="#f7f7f7" stroke="#762a83" stroke-width="1.3"/>
<circle cx="477.4" cy="618.2" r="5.15" fill="#f7f7f7" stroke="#762a83" stroke-width="1.3"/>
<circle cx="490.2" cy="618.2" r="5.45" fill="#f7f7f7" stroke="#762a83" stroke-width="1.3"/>
<circle cx="502.4" cy="618.2" r="5.15" fill="#f7f7f7" stroke="#762a83" stroke-width="1.3"/>
<circle cx="514.2" cy="618.2" r="5.15" fill="#f7f7f7" stroke="#762a83" stroke-width="1.3"/>
<circle cx="377.3" cy="635.4" r="4.75" fill="#e3e3e3" stroke="#1b7837" stroke-width="1.3"/>
<circle cx="390.2" cy="635.4" r="4.95" fill="#e3e3e3" stroke="#1b7837" stroke-width="1.3"/>
<circle cx="402.5" cy="635.4" r="4.95" fill="#e3e3e3" stroke="#1b7837" stroke-width="1.3"/>
<circle cx="415.4" cy="635.4" r="4.05" fill="#e3e3e3" stroke="#1b7837" stroke-width="1.3"/>
<circle cx="427.2" cy="635.4" r="5.45" fill="#e3e3e3" stroke="#1b7837" stroke-width="1.3"/>
<circle cx="440.4" cy="635.4" r="3.75" fill="#e3e3e3" stroke="#1b7837" stroke-width="1.3"/>
<circle cx="464.5" cy="635.4" r="5.45" fill="#f7f7f7" stroke="#762a83" stroke-width="1.3"/>
<circle cx="502.4" cy="635.4" r="4.95" fill="#f7f7f7" stroke="#762a83" stroke-width="1.3"/>
<circle cx="514.2" cy="635.4" r="4.95" fill="#f7f7f7" stroke="#762a83" stroke-width="1.3"/>
<path d="M521.6,598.4 Q519.4,601 521.6,603.7" fill="none" stroke="#9fcf9b" stroke-width="1.1"/>
<circle cx="567.1" cy="369.9" r="4.40" fill="#7dbd7c" stroke="#1b7837" stroke-width="1.2"/>
<circle cx="567.6" cy="419.6" r="4.60" fill="#7dbd7c" stroke="#1b7837" stroke-width="1.2"/>
<circle cx="657.2" cy="419.6" r="5.40" fill="#ae8cc4" stroke="#762a83" stroke-width="1.2"/>
<circle cx="580.3" cy="436.5" r="3.40" fill="#7dbd7c" stroke="#1b7837" stroke-width="1.2"/>
<circle cx="675.8" cy="436.5" r="5.10" fill="#ae8cc4" stroke="#762a83" stroke-width="1.2"/>
<circle cx="596.4" cy="469.5" r="4.60" fill="#7dbd7c" stroke="#1b7837" stroke-width="1.2"/>
<circle cx="565.1" cy="486.1" r="4.40" fill="#7dbd7c" stroke="#1b7837" stroke-width="1.2"/>
<circle cx="549.0" cy="519.2" r="4.60" fill="#7dbd7c" stroke="#1b7837" stroke-width="1.2"/>
<circle cx="596.4" cy="536.1" r="5.10" fill="#7dbd7c" stroke="#1b7837" stroke-width="1.2"/>
<circle cx="537.4" cy="552.8" r="3.60" fill="#7dbd7c" stroke="#1b7837" stroke-width="1.2"/>
<circle cx="549.1" cy="552.8" r="3.40" fill="#7dbd7c" stroke="#1b7837" stroke-width="1.2"/>
<circle cx="571.7" cy="552.8" r="4.10" fill="#7dbd7c" stroke="#1b7837" stroke-width="1.2"/>
<circle cx="583.6" cy="552.8" r="4.10" fill="#7dbd7c" stroke="#1b7837" stroke-width="1.2"/>
<circle cx="549.1" cy="569.4" r="4.10" fill="#7dbd7c" stroke="#1b7837" stroke-width="1.2"/>
<circle cx="560.5" cy="569.4" r="3.10" fill="#7dbd7c" stroke="#1b7837" stroke-width="1.2"/>
<circle cx="572.0" cy="569.4" r="4.30" fill="#7dbd7c" stroke="#1b7837" stroke-width="1.2"/>
<circle cx="584.8" cy="569.4" r="4.80" fill="#7dbd7c" stroke="#1b7837" stroke-width="1.2"/>
<circle cx="596.5" cy="569.4" r="3.60" fill="#7dbd7c" stroke="#1b7837" stroke-width="1.2"/>
<circle cx="607.7" cy="569.4" r="4.10" fill="#ae8cc4" stroke="#762a83" stroke-width="1.2"/>
<circle cx="537.4" cy="586.0" r="3.40" fill="#7dbd7c" stroke="#1b7837" stroke-width="1.2"/>
<circle cx="549.1" cy="586.0" r="4.80" fill="#7dbd7c" stroke="#1b7837" stroke-width="1.2"/>
<circle cx="572.0" cy="586.0" r="4.80" fill="#7dbd7c" stroke="#1b7837" stroke-width="1.2"/>
<circle cx="584.8" cy="586.0" r="4.50" fill="#7dbd7c" stroke="#1b7837" stroke-width="1.2"/>
<circle cx="596.5" cy="586.0" r="4.30" fill="#7dbd7c" stroke="#1b7837" stroke-width="1.2"/>
<circle cx="607.7" cy="586.0" r="5.00" fill="#ae8cc4" stroke="#762a83" stroke-width="1.2"/>
<circle cx="645.8" cy="586.0" r="5.00" fill="#ae8cc4" stroke="#762a83" stroke-width="1.2"/>
<circle cx="537.4" cy="602.6" r="4.80" fill="#7dbd7c" stroke="#1b7837" stroke-width="1.2"/>
<circle cx="550.0" cy="602.6" r="4.80" fill="#7dbd7c" stroke="#1b7837" stroke-width="1.2"/>
<circle cx="561.2" cy="602.6" r="4.80" fill="#7dbd7c" stroke="#1b7837" stroke-width="1.2"/>
<circle cx="572.2" cy="602.6" r="3.80" fill="#7dbd7c" stroke="#1b7837" stroke-width="1.2"/>
<circle cx="537.4" cy="619.4" r="4.50" fill="#7dbd7c" stroke="#1b7837" stroke-width="1.2"/>
<circle cx="621.7" cy="619.4" r="4.10" fill="#ae8cc4" stroke="#762a83" stroke-width="1.2"/>
<circle cx="635.5" cy="619.4" r="5.00" fill="#ae8cc4" stroke="#762a83" stroke-width="1.2"/>
<circle cx="537.4" cy="635.8" r="4.80" fill="#7dbd7c" stroke="#1b7837" stroke-width="1.2"/>
<circle cx="549.1" cy="635.8" r="3.10" fill="#7dbd7c" stroke="#1b7837" stroke-width="1.2"/>
<circle cx="561.4" cy="635.8" r="4.80" fill="#7dbd7c" stroke="#1b7837" stroke-width="1.2"/>
<circle cx="573.4" cy="635.8" r="4.50" fill="#7dbd7c" stroke="#1b7837" stroke-width="1.2"/>
<circle cx="584.8" cy="635.8" r="4.80" fill="#7dbd7c" stroke="#1b7837" stroke-width="1.2"/>
<circle cx="596.5" cy="635.8" r="4.80" fill="#7dbd7c" stroke="#1b7837" stroke-width="1.2"/>
<circle cx="607.7" cy="635.8" r="4.50" fill="#ae8cc4" stroke="#762a83" stroke-width="1.2"/>
<circle cx="621.9" cy="635.8" r="5.00" fill="#ae8cc4" stroke="#762a83" stroke-width="1.2"/>
<circle cx="657.4" cy="635.8" r="3.80" fill="#ae8cc4" stroke="#762a83" stroke-width="1.2"/>
</svg>
</body></html>
